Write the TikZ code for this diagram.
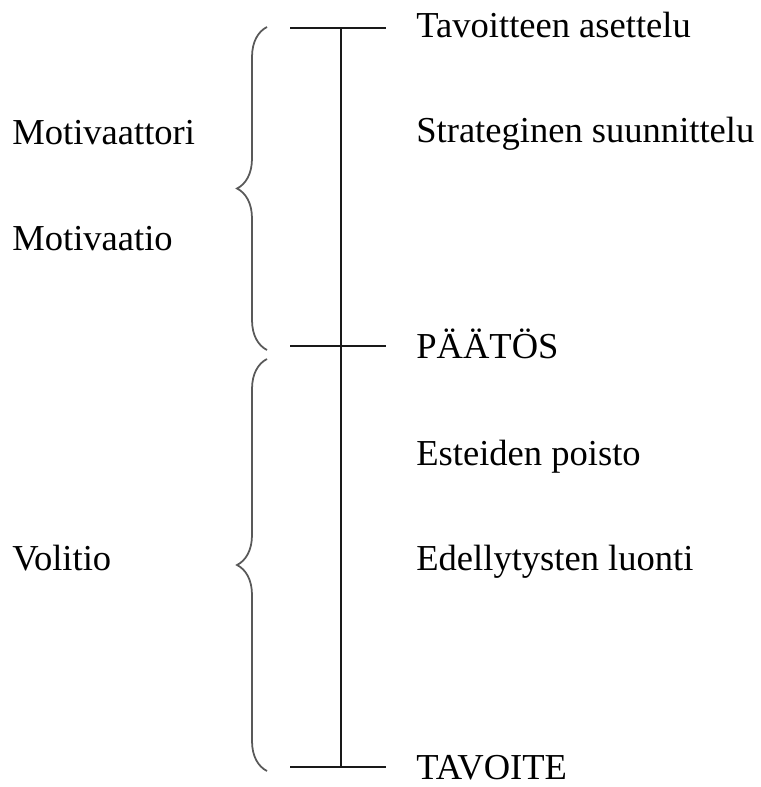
\documentclass[tikz,border=0pt]{standalone}
\usepackage{fontspec}
\setmainfont{Liberation Serif}
\usetikzlibrary{positioning,decorations.pathreplacing}
\tikzset{
  % tekstit
  lbl/.style={anchor=base west,inner sep=0pt,font=\fontsize{20.8}{25}\selectfont},
  % viivat
  spine/.style={draw=black!90,line width=1.15pt},
  tick/.style={draw=black!90,line width=1.15pt},
  brc/.style={draw=black!65,line width=1pt,decorate,
              decoration={brace,amplitude=0.6cm}},
}
\begin{document}
\begin{tikzpicture}[x=0.02cm,y=-0.02cm]
  \useasboundingbox (0,0) rectangle (760,787);
  \coordinate (top) at (341,28);
  \coordinate (mid) at (341,346);
  \coordinate (bot) at (341,767);
  \draw[spine] (top) -- (bot);
  \draw[tick] ([xshift=-1.02cm]top) -- ([xshift=0.9cm]top);
  \draw[tick] ([xshift=-1.02cm]mid) -- ([xshift=0.9cm]mid);
  \draw[tick] ([xshift=-1.02cm]bot) -- ([xshift=0.9cm]bot);
  \coordinate (b1s) at (267,350);
  \coordinate (b1e) at (267,27);
  \coordinate (b2s) at (267,771);
  \coordinate (b2e) at (267,359);
  \draw[brc] (b1s) -- (b1e);
  \draw[brc] (b2s) -- (b2e);
  \node[lbl] (tavas) at (416,38) {Tavoitteen asettelu};
  \node[lbl] (strat) at (416,143) {Strateginen suunnittelu};
  \node[lbl] (paatos) at (416,358) {PÄÄTÖS};
  \node[lbl] (esteet) at (416,465) {Esteiden poisto};
  \node[lbl] (edell) at (416,570) {Edellytysten luonti};
  \node[lbl] (tavoite) at (416,779) {TAVOITE};
  \node[lbl] (motor) at (12,145) {Motivaattori};
  \node[lbl] (motio) at (12,250) {Motivaatio};
  \node[lbl] (vol) at (12,570) {Volitio};
\end{tikzpicture}
\end{document}
